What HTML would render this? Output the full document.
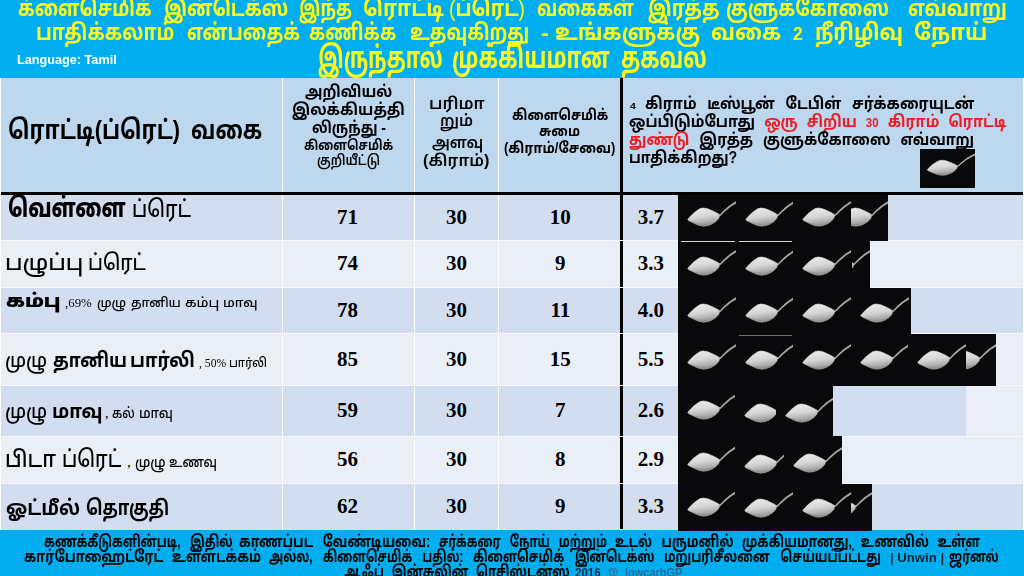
<!DOCTYPE html>
<html lang="ta"><head><meta charset="utf-8"><title>கிளைசெமிக் இன்டெக்ஸ் - ரொட்டி வகை</title>
<style>
html,body{margin:0;padding:0;background:#fff}
#pg{position:relative;width:1024px;height:576px;overflow:hidden;background:#fff;font-family:'Liberation Sans','Noto Sans Tamil','Lohit Tamil','FreeSans',sans-serif}
#pg div{position:absolute}
.t{white-space:nowrap;line-height:1;transform-origin:0 0}
.n{width:80px;text-align:center;font:bold 21px/25px "Liberation Serif",serif;color:#000}
.band{left:1px;width:1021.5px}
.hl{left:1px;width:1021.5px;height:1px;background:#f7f9fd}
.vl{top:78px;height:452px;width:1px;background:#fff}
.blk{background:#09090c;overflow:hidden}
.sp{overflow:hidden}
.sp svg{position:absolute;top:0;left:0;display:block}
</style></head><body>
<svg width="0" height="0" style="position:absolute"><defs>
<linearGradient id="sg" x1="0" y1="0" x2="0.25" y2="1"><stop offset="0" stop-color="#efefef"/><stop offset="0.55" stop-color="#d6d6d6"/><stop offset="1" stop-color="#9c9c9c"/></linearGradient>
<filter id="sb" x="-5%" y="-5%" width="110%" height="110%"><feGaussianBlur stdDeviation="0.35"/></filter>
<g id="spg">
<rect x="-4" width="70" height="46" fill="#09090c"/>
<g filter="url(#sb)">
<path d="M41.2,20.2 L45.4,15.8 Q51,10.3 57.3,6.6 L63,3.6 L63.6,5.8 L58,8.6 Q52,11.7 46.6,16.9 L42.2,21.3 Z" fill="#a4a4a4"/>
<path d="M9.7,24.4 L12.2,21.5 L15.5,18.3 L18.8,15.7 L22.2,13.6 L25.5,13 L29.7,13.8 L33.8,15.5 L38,17.5 L41.8,19.8 L40.9,23.2 L38,26.5 L33.8,29.2 L29.7,30.7 L25.5,31.2 L21.3,30.5 L17.2,28.8 L13.4,26.9 L10.5,25.5 Z" fill="url(#sg)" stroke="url(#sg)" stroke-width="0.6" stroke-linejoin="round"/>
<path d="M12.5,26.6 L17.2,28.9 L21.3,30.6 L25.5,31.3 L29.7,30.8 L33.8,29.3 L38,26.6 Q33,28.6 27,29 Q20,29 12.5,26.6Z" fill="#8c8c8c" opacity="0.55"/>
</g>
</g>
<symbol id="spoon" viewBox="0 0 58 46" preserveAspectRatio="none"><use href="#spg"/></symbol></defs></svg>
<div id="pg">
<div style="left:0;top:0;width:1024px;height:77.5px;background:#00AEEF"></div>
<div style="left:0;top:530px;width:1024px;height:46px;background:#00AEEF"></div>
<div style="left:1px;top:77.5px;width:1021.5px;height:115px;background:#BDD7EE"></div>
<div class="band" style="top:195px;height:45px;background:#D2DEEF"></div><div class="band" style="top:240px;height:47.5px;background:#EAEFF7"></div><div class="band" style="top:287.5px;height:46.0px;background:#D2DEEF"></div><div class="band" style="top:333.5px;height:52.0px;background:#EAEFF7"></div><div class="band" style="top:385.5px;height:50.5px;background:#D2DEEF"></div><div class="band" style="top:436px;height:47.5px;background:#EAEFF7"></div><div class="band" style="top:483.5px;height:46.5px;background:#D2DEEF"></div>
<div class="vl" style="left:282px"></div><div class="vl" style="left:414px"></div><div class="vl" style="left:498px"></div>
<div style="left:1px;top:192px;width:1021.5px;height:3px;background:#000"></div>
<div style="left:620.2px;top:77.5px;width:3.3px;height:451.5px;background:#000"></div>
<div class="hl" style="top:239.5px"></div><div class="hl" style="top:287.0px"></div><div class="hl" style="top:333.0px"></div><div class="hl" style="top:385.0px"></div><div class="hl" style="top:435.5px"></div><div class="hl" style="top:483.0px"></div><div style="left:966px;top:385.5px;width:56.5px;height:50.5px;background:#EAEFF7"></div>
<div style="left:920px;top:149.2px;width:54.8px;height:38.4px;overflow:hidden;background:#09090c"><svg width="54.8" height="38.4" viewBox="2.2 -0.4 57.8 46" preserveAspectRatio="none" style="display:block"><use href="#spg"/></svg></div>
<div class="blk" style="left:678px;top:195px;width:210px;height:45.5px"><div class="sp" style="left:0.0px;top:0.0px;width:58px;height:46px"><svg width="58" height="46" viewBox="0 0 58 46" preserveAspectRatio="none"><use href="#spoon"/></svg></div><div class="sp" style="left:57.5px;top:0.0px;width:58px;height:46px"><svg width="58" height="46" viewBox="0 0 58 46" preserveAspectRatio="none"><use href="#spoon"/></svg></div><div class="sp" style="left:115.3px;top:0.0px;width:58px;height:46px"><svg width="58" height="46" viewBox="0 0 58 46" preserveAspectRatio="none"><use href="#spoon"/></svg></div><div class="sp" style="left:172.9px;top:0.0px;width:37.1px;height:46px"><svg style="left:-20.9px" width="58" height="46" viewBox="0 0 58 46" preserveAspectRatio="none"><use href="#spoon"/></svg></div></div><div class="blk" style="left:678px;top:240px;width:191.5px;height:48.0px"><div class="sp" style="left:0.0px;top:4.1px;width:58px;height:46px"><svg width="58" height="46" viewBox="0 0 58 46" preserveAspectRatio="none"><use href="#spoon"/></svg></div><div class="sp" style="left:57.5px;top:4.1px;width:58px;height:46px"><svg width="58" height="46" viewBox="0 0 58 46" preserveAspectRatio="none"><use href="#spoon"/></svg></div><div class="sp" style="left:115.3px;top:4.1px;width:58px;height:46px"><svg width="58" height="46" viewBox="0 0 58 46" preserveAspectRatio="none"><use href="#spoon"/></svg></div><div class="sp" style="left:173.5px;top:4.1px;width:18.0px;height:46px"><svg style="left:-40.0px" width="58" height="46" viewBox="0 0 58 46" preserveAspectRatio="none"><use href="#spoon"/></svg></div></div><div class="blk" style="left:678px;top:287.5px;width:232.5px;height:46.5px"><div class="sp" style="left:0.0px;top:3.1px;width:58px;height:46px"><svg width="58" height="46" viewBox="0 0 58 46" preserveAspectRatio="none"><use href="#spoon"/></svg></div><div class="sp" style="left:57.5px;top:3.1px;width:58px;height:46px"><svg width="58" height="46" viewBox="0 0 58 46" preserveAspectRatio="none"><use href="#spoon"/></svg></div><div class="sp" style="left:115.3px;top:3.1px;width:58px;height:46px"><svg width="58" height="46" viewBox="0 0 58 46" preserveAspectRatio="none"><use href="#spoon"/></svg></div><div class="sp" style="left:173.3px;top:3.1px;width:58px;height:46px"><svg width="58" height="46" viewBox="0 0 58 46" preserveAspectRatio="none"><use href="#spoon"/></svg></div></div><div class="blk" style="left:678px;top:333.5px;width:318px;height:52.5px"><div class="sp" style="left:0.0px;top:4.8px;width:58px;height:46px"><svg width="58" height="46" viewBox="0 0 58 46" preserveAspectRatio="none"><use href="#spoon"/></svg></div><div class="sp" style="left:57.5px;top:4.8px;width:58px;height:46px"><svg width="58" height="46" viewBox="0 0 58 46" preserveAspectRatio="none"><use href="#spoon"/></svg></div><div class="sp" style="left:115.0px;top:4.8px;width:58px;height:46px"><svg width="58" height="46" viewBox="0 0 58 46" preserveAspectRatio="none"><use href="#spoon"/></svg></div><div class="sp" style="left:172.5px;top:4.8px;width:58px;height:46px"><svg width="58" height="46" viewBox="0 0 58 46" preserveAspectRatio="none"><use href="#spoon"/></svg></div><div class="sp" style="left:230.0px;top:4.8px;width:58px;height:46px"><svg width="58" height="46" viewBox="0 0 58 46" preserveAspectRatio="none"><use href="#spoon"/></svg></div><div class="sp" style="left:287.8px;top:4.8px;width:30.2px;height:46px"><svg style="left:-27.8px" width="58" height="46" viewBox="0 0 58 46" preserveAspectRatio="none"><use href="#spoon"/></svg></div></div><div class="blk" style="left:678px;top:385.5px;width:155px;height:51.0px"><div class="sp" style="left:0.0px;top:2.0px;width:58px;height:46px"><svg width="58" height="46" viewBox="0 0 58 46" preserveAspectRatio="none"><use href="#spoon"/></svg></div><div class="sp" style="left:57.0px;top:5.5px;width:58px;height:46px"><svg width="58" height="46" viewBox="0 0 58 46" preserveAspectRatio="none"><use href="#spoon"/></svg></div><div class="sp" style="left:97.6px;top:5.0px;width:58px;height:46px"><svg width="58" height="46" viewBox="0 0 58 46" preserveAspectRatio="none"><use href="#spoon"/></svg></div></div><div class="blk" style="left:678px;top:436px;width:164px;height:48.0px"><div class="sp" style="left:0.0px;top:4.2px;width:58px;height:46px"><svg width="58" height="46" viewBox="0 0 58 46" preserveAspectRatio="none"><use href="#spoon"/></svg></div><div class="sp" style="left:57.0px;top:6.2px;width:58px;height:46px"><svg width="58" height="46" viewBox="0 0 58 46" preserveAspectRatio="none"><use href="#spoon"/></svg></div><div class="sp" style="left:106.3px;top:5.2px;width:58px;height:46px"><svg width="58" height="46" viewBox="0 0 58 46" preserveAspectRatio="none"><use href="#spoon"/></svg></div></div><div class="blk" style="left:678px;top:483.5px;width:194px;height:47.0px"><div class="sp" style="left:0.0px;top:1.3px;width:58px;height:46px"><svg width="58" height="46" viewBox="0 0 58 46" preserveAspectRatio="none"><use href="#spoon"/></svg></div><div class="sp" style="left:57.3px;top:2.3px;width:58px;height:46px"><svg width="58" height="46" viewBox="0 0 58 46" preserveAspectRatio="none"><use href="#spoon"/></svg></div><div class="sp" style="left:115.3px;top:2.8px;width:58px;height:46px"><svg width="58" height="46" viewBox="0 0 58 46" preserveAspectRatio="none"><use href="#spoon"/></svg></div><div class="sp" style="left:173.1px;top:2.8px;width:20.9px;height:46px"><svg style="left:-37.1px" width="58" height="46" viewBox="0 0 58 46" preserveAspectRatio="none"><use href="#spoon"/></svg></div></div>
<div style="left:681px;top:241.3px;width:54px;height:1px;background:#d8d8d8"></div><div style="left:739px;top:241.3px;width:53px;height:1px;background:#d8d8d8"></div><div style="left:739px;top:335.4px;width:53px;height:1px;background:#6e6e6e"></div>
<div class="n" style="left:307.6px;top:204.9px">71</div><div class="n" style="left:416.5px;top:204.9px">30</div><div class="n" style="left:520.3px;top:204.9px">10</div><div class="n" style="left:610.8px;top:204.9px">3.7</div><div class="n" style="left:307.6px;top:251.2px">74</div><div class="n" style="left:416.5px;top:251.2px">30</div><div class="n" style="left:520.3px;top:251.2px">9</div><div class="n" style="left:610.8px;top:251.2px">3.3</div><div class="n" style="left:307.6px;top:297.9px">78</div><div class="n" style="left:416.5px;top:297.9px">30</div><div class="n" style="left:520.3px;top:297.9px">11</div><div class="n" style="left:610.8px;top:297.9px">4.0</div><div class="n" style="left:307.6px;top:346.9px">85</div><div class="n" style="left:416.5px;top:346.9px">30</div><div class="n" style="left:520.3px;top:346.9px">15</div><div class="n" style="left:610.8px;top:346.9px">5.5</div><div class="n" style="left:307.6px;top:398.1px">59</div><div class="n" style="left:416.5px;top:398.1px">30</div><div class="n" style="left:520.3px;top:398.1px">7</div><div class="n" style="left:610.8px;top:398.1px">2.6</div><div class="n" style="left:307.6px;top:447.1px">56</div><div class="n" style="left:416.5px;top:447.1px">30</div><div class="n" style="left:520.3px;top:447.1px">8</div><div class="n" style="left:610.8px;top:447.1px">2.9</div><div class="n" style="left:307.6px;top:494.1px">62</div><div class="n" style="left:416.5px;top:494.1px">30</div><div class="n" style="left:520.3px;top:494.1px">9</div><div class="n" style="left:610.8px;top:494.1px">3.3</div>
<div class="t" style="left:17.94px;top:-1.90px;transform:scaleX(0.8064);font-family:'Liberation Sans','Noto Sans Tamil','Lohit Tamil','FreeSans',sans-serif;font-size:22.6px;font-weight:bold;color:#FBF81E;">க்ளைசெமிக்</div><div class="t" style="left:164.17px;top:-1.90px;transform:scaleX(0.8277);font-family:'Liberation Sans','Noto Sans Tamil','Lohit Tamil','FreeSans',sans-serif;font-size:22.6px;font-weight:bold;color:#FBF81E;">இன்டெக்ஸ்</div><div class="t" style="left:298.73px;top:-1.90px;transform:scaleX(0.7731);font-family:'Liberation Sans','Noto Sans Tamil','Lohit Tamil','FreeSans',sans-serif;font-size:22.6px;font-weight:bold;color:#FBF81E;">இந்த</div><div class="t" style="left:362.70px;top:-1.90px;transform:scaleX(0.8989);font-family:'Liberation Sans','Noto Sans Tamil','Lohit Tamil','FreeSans',sans-serif;font-size:22.6px;font-weight:bold;color:#FBF81E;">ரொட்டி</div><div class="t" style="left:448.84px;top:-1.90px;transform:scaleX(0.8581);font-family:'Liberation Sans','Noto Sans Tamil','Lohit Tamil','FreeSans',sans-serif;font-size:22.6px;font-weight:bold;color:#FBF81E;"><span style="font-weight:normal">(</span>ப்ரெட்<span style="font-weight:normal">)</span></div><div class="t" style="left:537.11px;top:-1.90px;transform:scaleX(0.7902);font-family:'Liberation Sans','Noto Sans Tamil','Lohit Tamil','FreeSans',sans-serif;font-size:22.6px;font-weight:bold;color:#FBF81E;">வகைகள்</div><div class="t" style="left:647.75px;top:-1.90px;transform:scaleX(0.8537);font-family:'Liberation Sans','Noto Sans Tamil','Lohit Tamil','FreeSans',sans-serif;font-size:22.6px;font-weight:bold;color:#FBF81E;">இரத்த</div><div class="t" style="left:726.18px;top:-1.90px;transform:scaleX(0.8188);font-family:'Liberation Sans','Noto Sans Tamil','Lohit Tamil','FreeSans',sans-serif;font-size:22.6px;font-weight:bold;color:#FBF81E;">குளுக்கோஸை</div><div class="t" style="left:907.54px;top:-1.90px;transform:scaleX(0.8625);font-family:'Liberation Sans','Noto Sans Tamil','Lohit Tamil','FreeSans',sans-serif;font-size:22.6px;font-weight:bold;color:#FBF81E;">எவ்வாறு</div><div class="t" style="left:35.82px;top:22.00px;transform:scaleX(0.8410);font-family:'Liberation Sans','Noto Sans Tamil','Lohit Tamil','FreeSans',sans-serif;font-size:22.6px;font-weight:bold;color:#FBF81E;">பாதிக்கலாம்</div><div class="t" style="left:186.69px;top:22.00px;transform:scaleX(0.8139);font-family:'Liberation Sans','Noto Sans Tamil','Lohit Tamil','FreeSans',sans-serif;font-size:22.6px;font-weight:bold;color:#FBF81E;">என்பதைக்</div><div class="t" style="left:309.46px;top:22.00px;transform:scaleX(0.7904);font-family:'Liberation Sans','Noto Sans Tamil','Lohit Tamil','FreeSans',sans-serif;font-size:22.6px;font-weight:bold;color:#FBF81E;">கணிக்க</div><div class="t" style="left:409.89px;top:22.00px;transform:scaleX(0.8062);font-family:'Liberation Sans','Noto Sans Tamil','Lohit Tamil','FreeSans',sans-serif;font-size:22.6px;font-weight:bold;color:#FBF81E;">உதவுகிறது</div><div class="t" style="left:540.97px;top:22.00px;transform:scaleX(1.0333);font-family:'Liberation Sans','Noto Sans Tamil','Lohit Tamil','FreeSans',sans-serif;font-size:22.6px;font-weight:bold;color:#FBF81E;">-</div><div class="t" style="left:555.47px;top:22.00px;transform:scaleX(0.9265);font-family:'Liberation Sans','Noto Sans Tamil','Lohit Tamil','FreeSans',sans-serif;font-size:22.6px;font-weight:bold;color:#FBF81E;">உங்களுக்கு</div><div class="t" style="left:711.07px;top:22.00px;transform:scaleX(0.9297);font-family:'Liberation Sans','Noto Sans Tamil','Lohit Tamil','FreeSans',sans-serif;font-size:22.6px;font-weight:bold;color:#FBF81E;">வகை</div><div class="t" style="left:793.27px;top:22.00px;transform:scaleX(0.9333);font-family:'Liberation Sans','Noto Sans Tamil','Lohit Tamil','FreeSans',sans-serif;font-size:22.6px;font-weight:bold;color:#FBF81E;"><span style="font-size:19px">2</span></div><div class="t" style="left:815.09px;top:22.00px;transform:scaleX(0.9117);font-family:'Liberation Sans','Noto Sans Tamil','Lohit Tamil','FreeSans',sans-serif;font-size:22.6px;font-weight:bold;color:#FBF81E;">நீரிழிவு</div><div class="t" style="left:914.04px;top:22.00px;transform:scaleX(0.9554);font-family:'Liberation Sans','Noto Sans Tamil','Lohit Tamil','FreeSans',sans-serif;font-size:22.6px;font-weight:bold;color:#FBF81E;">நோய்</div><div class="t" style="left:317.82px;top:41.70px;transform:scaleX(0.6833);font-family:'Liberation Sans','Noto Sans Tamil','Lohit Tamil','FreeSans',sans-serif;font-size:30.5px;font-weight:bold;color:#FBF81E;">இருந்தால்</div><div class="t" style="left:452.40px;top:41.70px;transform:scaleX(0.7023);font-family:'Liberation Sans','Noto Sans Tamil','Lohit Tamil','FreeSans',sans-serif;font-size:30.5px;font-weight:bold;color:#FBF81E;">முக்கியமான</div><div class="t" style="left:621.31px;top:41.70px;transform:scaleX(0.6885);font-family:'Liberation Sans','Noto Sans Tamil','Lohit Tamil','FreeSans',sans-serif;font-size:30.5px;font-weight:bold;color:#FBF81E;">தகவல்</div><div class="t" style="left:16.51px;top:53.75px;transform:scaleX(0.9899);font-family:'Liberation Sans','Noto Sans Tamil','Lohit Tamil','FreeSans',sans-serif;font-size:12.8px;font-weight:bold;color:#fff;">Language: Tamil</div><div class="t" style="left:7.66px;top:116.50px;transform:scaleX(0.8374);font-family:'Liberation Sans','Noto Sans Tamil','Lohit Tamil','FreeSans',sans-serif;font-size:26px;font-weight:bold;color:#000;">ரொட்டி(ப்ரெட்)</div><div class="t" style="left:190.98px;top:116.50px;transform:scaleX(0.8212);font-family:'Liberation Sans','Noto Sans Tamil','Lohit Tamil','FreeSans',sans-serif;font-size:26px;font-weight:bold;color:#000;">வகை</div><div class="t" style="left:304.80px;top:82.75px;transform:scaleX(0.8827);font-family:'Liberation Sans','Noto Sans Tamil','Lohit Tamil','FreeSans',sans-serif;font-size:16.2px;font-weight:bold;color:#000;">அறிவியல்</div><div class="t" style="left:291.79px;top:101.30px;transform:scaleX(0.9107);font-family:'Liberation Sans','Noto Sans Tamil','Lohit Tamil','FreeSans',sans-serif;font-size:16.2px;font-weight:bold;color:#000;">இலக்கியத்தி</div><div class="t" style="left:312.34px;top:119.20px;transform:scaleX(0.8619);font-family:'Liberation Sans','Noto Sans Tamil','Lohit Tamil','FreeSans',sans-serif;font-size:16.2px;font-weight:bold;color:#000;">லிருந்து -</div><div class="t" style="left:303.65px;top:138.50px;transform:scaleX(0.8462);font-family:'Liberation Sans','Noto Sans Tamil','Lohit Tamil','FreeSans',sans-serif;font-size:13.8px;font-weight:bold;color:#000;">கிளைசெமிக்</div><div class="t" style="left:317.02px;top:153.80px;transform:scaleX(0.8800);font-family:'Liberation Sans','Noto Sans Tamil','Lohit Tamil','FreeSans',sans-serif;font-size:13.8px;font-weight:600;color:#000;">குறியீட்டு</div><div class="t" style="left:428.71px;top:95.75px;transform:scaleX(1.0377);font-family:'Liberation Sans','Noto Sans Tamil','Lohit Tamil','FreeSans',sans-serif;font-size:16px;font-weight:600;color:#000;">பரிமா</div><div class="t" style="left:439.53px;top:112.50px;transform:scaleX(0.9688);font-family:'Liberation Sans','Noto Sans Tamil','Lohit Tamil','FreeSans',sans-serif;font-size:16px;font-weight:600;color:#000;">றும்</div><div class="t" style="left:432.25px;top:134.50px;transform:scaleX(0.9434);font-family:'Liberation Sans','Noto Sans Tamil','Lohit Tamil','FreeSans',sans-serif;font-size:16px;font-weight:600;color:#000;">அளவு</div><div class="t" style="left:422.98px;top:153.25px;transform:scaleX(1.0156);font-family:'Liberation Sans','Noto Sans Tamil','Lohit Tamil','FreeSans',sans-serif;font-size:16px;font-weight:600;color:#000;">(கிராம்)</div><div class="t" style="left:511.66px;top:107.00px;transform:scaleX(0.8407);font-family:'Liberation Sans','Noto Sans Tamil','Lohit Tamil','FreeSans',sans-serif;font-size:15px;font-weight:bold;color:#000;">கிளைசெமிக்</div><div class="t" style="left:539.14px;top:122.50px;transform:scaleX(0.8587);font-family:'Liberation Sans','Noto Sans Tamil','Lohit Tamil','FreeSans',sans-serif;font-size:15px;font-weight:bold;color:#000;">சுமை</div><div class="t" style="left:504.13px;top:139.50px;transform:scaleX(0.8730);font-family:'Liberation Sans','Noto Sans Tamil','Lohit Tamil','FreeSans',sans-serif;font-size:15px;font-weight:bold;color:#000;">(கிராம்/சேவை)</div><div class="t" style="left:644.62px;top:94.90px;transform:scaleX(0.8814);word-spacing:7.52px;font-family:'Liberation Sans','Noto Sans Tamil','Lohit Tamil','FreeSans',sans-serif;font-size:16.5px;font-weight:bold;color:#000;">கிராம் டீஸ்பூன் டேபிள் சர்க்கரையுடன்</div><div class="t" style="left:630.00px;top:100.90px;transform:scaleX(1.1200);font-family:'Liberation Sans','Noto Sans Tamil','Lohit Tamil','FreeSans',sans-serif;font-size:9.4px;font-weight:bold;color:#000;">4</div><div class="t" style="left:629.12px;top:113.00px;transform:scaleX(0.8831);word-spacing:5.69px;font-family:'Liberation Sans','Noto Sans Tamil','Lohit Tamil','FreeSans',sans-serif;font-size:16.5px;font-weight:bold;color:#000;">ஒப்பிடும்போது <span style="color:#F01C24">ஒரு சிறிய <span style="font-size:13px">30</span> கிராம் ரொட்டி</span></div><div class="t" style="left:629.12px;top:130.80px;transform:scaleX(0.8779);word-spacing:6.70px;font-family:'Liberation Sans','Noto Sans Tamil','Lohit Tamil','FreeSans',sans-serif;font-size:16.5px;font-weight:bold;color:#000;"><span style="color:#F01C24">துண்டு</span> இரத்த குளுக்கோஸை எவ்வாறு</div><div class="t" style="left:629.14px;top:148.70px;transform:scaleX(0.8589);font-family:'Liberation Sans','Noto Sans Tamil','Lohit Tamil','FreeSans',sans-serif;font-size:16.5px;font-weight:bold;color:#000;">பாதிக்கிறது?</div><div class="t" style="left:7.66px;top:194.70px;transform:scaleX(0.7427);font-family:'Liberation Sans','Noto Sans Tamil','Lohit Tamil','FreeSans',sans-serif;font-size:27px;font-weight:800;color:#000;">வெள்ளை</div><div class="t" style="left:131.94px;top:197.70px;transform:scaleX(0.8319);font-family:'Liberation Sans','Noto Sans Tamil','Lohit Tamil','FreeSans',sans-serif;font-size:23px;font-weight:500;color:#000;">ப்ரெட்</div><div class="t" style="left:4.99px;top:252.00px;transform:scaleX(1.0068);font-family:'Liberation Sans','Noto Sans Tamil','Lohit Tamil','FreeSans',sans-serif;font-size:22px;font-weight:500;color:#000;">பழுப்பு</div><div class="t" style="left:87.69px;top:252.00px;transform:scaleX(0.8530);font-family:'Liberation Sans','Noto Sans Tamil','Lohit Tamil','FreeSans',sans-serif;font-size:22px;font-weight:500;color:#000;">ப்ரெட்</div><div class="t" style="left:5.53px;top:292.40px;transform:scaleX(1.0694);font-family:'Liberation Sans','Noto Sans Tamil','Lohit Tamil','FreeSans',sans-serif;font-size:18.3px;font-weight:900;color:#000;">கம்பு</div><div class="t" style="left:64.91px;top:296.40px;transform:scaleX(0.9885);font-family:'Liberation Serif','Noto Serif Tamil',serif;font-size:13px;font-weight:500;color:#000;">,69%</div><div class="t" style="left:96.73px;top:296.40px;transform:scaleX(0.9679);font-family:'Liberation Sans','Noto Sans Tamil','Lohit Tamil','FreeSans',sans-serif;font-size:13px;font-weight:500;color:#000;">முழு</div><div class="t" style="left:130.54px;top:296.40px;transform:scaleX(0.9560);font-family:'Liberation Sans','Noto Sans Tamil','Lohit Tamil','FreeSans',sans-serif;font-size:13px;font-weight:500;color:#000;">தானிய</div><div class="t" style="left:184.96px;top:296.40px;transform:scaleX(1.0419);font-family:'Liberation Sans','Noto Sans Tamil','Lohit Tamil','FreeSans',sans-serif;font-size:13px;font-weight:500;color:#000;">கம்பு</div><div class="t" style="left:223.37px;top:296.40px;transform:scaleX(1.0290);font-family:'Liberation Sans','Noto Sans Tamil','Lohit Tamil','FreeSans',sans-serif;font-size:13px;font-weight:500;color:#000;">மாவு</div><div class="t" style="left:5.31px;top:350.00px;transform:scaleX(0.8933);font-family:'Liberation Sans','Noto Sans Tamil','Lohit Tamil','FreeSans',sans-serif;font-size:20.3px;font-weight:500;color:#000;">முழு</div><div class="t" style="left:52.55px;top:350.00px;transform:scaleX(0.8524);font-family:'Liberation Sans','Noto Sans Tamil','Lohit Tamil','FreeSans',sans-serif;font-size:20.3px;font-weight:bold;color:#000;">தானிய</div><div class="t" style="left:130.23px;top:350.00px;transform:scaleX(0.8857);font-family:'Liberation Sans','Noto Sans Tamil','Lohit Tamil','FreeSans',sans-serif;font-size:20.3px;font-weight:bold;color:#000;">பார்லி</div><div class="t" style="left:198.77px;top:357.00px;transform:scaleX(0.9321);font-family:'Liberation Serif','Noto Serif Tamil',serif;font-size:12.5px;font-weight:500;color:#000;">, 50%</div><div class="t" style="left:229.11px;top:357.00px;transform:scaleX(0.8925);font-family:'Liberation Sans','Noto Sans Tamil','Lohit Tamil','FreeSans',sans-serif;font-size:12.5px;font-weight:500;color:#000;">பார்லி</div><div class="t" style="left:5.31px;top:400.70px;transform:scaleX(0.8933);font-family:'Liberation Sans','Noto Sans Tamil','Lohit Tamil','FreeSans',sans-serif;font-size:20.3px;font-weight:500;color:#000;">முழு</div><div class="t" style="left:51.58px;top:400.70px;transform:scaleX(0.9096);font-family:'Liberation Sans','Noto Sans Tamil','Lohit Tamil','FreeSans',sans-serif;font-size:20.3px;font-weight:bold;color:#000;">மாவு</div><div class="t" style="left:105.00px;top:406.70px;transform:scaleX(1.0000);font-family:'Liberation Serif','Noto Serif Tamil',serif;font-size:14px;font-weight:500;color:#000;">,</div><div class="t" style="left:112.14px;top:405.70px;transform:scaleX(0.8560);font-family:'Liberation Sans','Noto Sans Tamil','Lohit Tamil','FreeSans',sans-serif;font-size:14px;font-weight:500;color:#000;">கல்</div><div class="t" style="left:139.06px;top:405.70px;transform:scaleX(0.9412);font-family:'Liberation Sans','Noto Sans Tamil','Lohit Tamil','FreeSans',sans-serif;font-size:14px;font-weight:500;color:#000;">மாவு</div><div class="t" style="left:5.18px;top:448.00px;transform:scaleX(0.9111);font-family:'Liberation Sans','Noto Sans Tamil','Lohit Tamil','FreeSans',sans-serif;font-size:23px;font-weight:500;color:#000;">பிடா</div><div class="t" style="left:61.63px;top:448.00px;transform:scaleX(0.8362);font-family:'Liberation Sans','Noto Sans Tamil','Lohit Tamil','FreeSans',sans-serif;font-size:23px;font-weight:500;color:#000;">ப்ரெட்</div><div class="t" style="left:127.00px;top:455.00px;transform:scaleX(1.0000);font-family:'Liberation Serif','Noto Serif Tamil',serif;font-size:15px;font-weight:500;color:#000;">,</div><div class="t" style="left:134.62px;top:454.00px;transform:scaleX(0.8788);font-family:'Liberation Sans','Noto Sans Tamil','Lohit Tamil','FreeSans',sans-serif;font-size:15px;font-weight:500;color:#000;">முழு</div><div class="t" style="left:169.16px;top:454.00px;transform:scaleX(0.8364);font-family:'Liberation Sans','Noto Sans Tamil','Lohit Tamil','FreeSans',sans-serif;font-size:15px;font-weight:500;color:#000;">உணவு</div><div class="t" style="left:5.68px;top:497.50px;transform:scaleX(0.9205);font-family:'Liberation Sans','Noto Sans Tamil','Lohit Tamil','FreeSans',sans-serif;font-size:20.5px;font-weight:bold;color:#000;">ஓட்மீல்</div><div class="t" style="left:86.18px;top:497.50px;transform:scaleX(0.8172);font-family:'Liberation Sans','Noto Sans Tamil','Lohit Tamil','FreeSans',sans-serif;font-size:20.5px;font-weight:bold;color:#000;">தொகுதி</div><div class="t" style="left:43.77px;top:533.00px;transform:scaleX(0.7292);word-spacing:8.50px;font-family:'Liberation Sans','Noto Sans Tamil','Lohit Tamil','FreeSans',sans-serif;font-size:16.4px;font-weight:bold;color:#000;">கணக்கீடுகளின்படி, இதில்</div><div class="t" style="left:239.22px;top:533.00px;transform:scaleX(0.7778);word-spacing:7.97px;font-family:'Liberation Sans','Noto Sans Tamil','Lohit Tamil','FreeSans',sans-serif;font-size:16.4px;font-weight:bold;color:#000;">காணப்பட வேண்டியவை:</div><div class="t" style="left:438.99px;top:533.00px;transform:scaleX(0.7137);word-spacing:8.23px;font-family:'Liberation Sans','Noto Sans Tamil','Lohit Tamil','FreeSans',sans-serif;font-size:16.4px;font-weight:bold;color:#000;">சர்க்கரை நோய் மற்றும்</div><div class="t" style="left:615.23px;top:533.00px;transform:scaleX(0.7676);word-spacing:7.67px;font-family:'Liberation Sans','Noto Sans Tamil','Lohit Tamil','FreeSans',sans-serif;font-size:16.4px;font-weight:bold;color:#000;">உடல் பருமனில்</div><div class="t" style="left:742.24px;top:533.00px;transform:scaleX(0.7611);word-spacing:7.14px;font-family:'Liberation Sans','Noto Sans Tamil','Lohit Tamil','FreeSans',sans-serif;font-size:16.4px;font-weight:bold;color:#000;">முக்கியமானது, உணவில் உள்ள</div><div class="t" style="left:24.19px;top:548.00px;transform:scaleX(0.8067);font-family:'Liberation Sans','Noto Sans Tamil','Lohit Tamil','FreeSans',sans-serif;font-size:16.4px;font-weight:bold;color:#000;">கார்போஹைட்ரேட்</div><div class="t" style="left:171.71px;top:548.00px;transform:scaleX(0.7857);font-family:'Liberation Sans','Noto Sans Tamil','Lohit Tamil','FreeSans',sans-serif;font-size:16.4px;font-weight:bold;color:#000;">உள்ளடக்கம்</div><div class="t" style="left:269.00px;top:548.00px;transform:scaleX(0.7121);word-spacing:10.09px;font-family:'Liberation Sans','Noto Sans Tamil','Lohit Tamil','FreeSans',sans-serif;font-size:16.4px;font-weight:bold;color:#000;">அல்ல, கிளைசெமிக் பதில்:</div><div class="t" style="left:472.77px;top:548.00px;transform:scaleX(0.7284);word-spacing:10.15px;font-family:'Liberation Sans','Noto Sans Tamil','Lohit Tamil','FreeSans',sans-serif;font-size:16.4px;font-weight:bold;color:#000;">கிளைசெமிக் இன்டெக்ஸ்</div><div class="t" style="left:663.65px;top:548.00px;transform:scaleX(0.7476);word-spacing:9.53px;font-family:'Liberation Sans','Noto Sans Tamil','Lohit Tamil','FreeSans',sans-serif;font-size:16.4px;font-weight:bold;color:#000;">மறுபரிசீலனை செய்யப்பட்டது</div><div class="t" style="left:889.96px;top:551.50px;transform:scaleX(1.0440);font-family:'Liberation Sans','Noto Sans Tamil','Lohit Tamil','FreeSans',sans-serif;font-size:12.6px;font-weight:bold;color:#0b2233;">| Unwin |</div><div class="t" style="left:948.58px;top:548.00px;transform:scaleX(0.7162);font-family:'Liberation Sans','Noto Sans Tamil','Lohit Tamil','FreeSans',sans-serif;font-size:16.4px;font-weight:bold;color:#000;">ஜர்னல்</div><div class="t" style="left:344.00px;top:562.50px;transform:scaleX(0.7455);word-spacing:5.61px;font-family:'Liberation Sans','Noto Sans Tamil','Lohit Tamil','FreeSans',sans-serif;font-size:16.4px;font-weight:bold;color:#000;">ஆஃப் இன்சுலின் ரெசிஸ்டன்ஸ்</div><div class="t" style="left:575.00px;top:566.60px;transform:scaleX(0.9615);font-family:'Liberation Sans','Noto Sans Tamil','Lohit Tamil','FreeSans',sans-serif;font-size:12px;font-weight:bold;color:#0d2c48;">2016</div><div class="t" style="left:606.45px;top:566.60px;transform:scaleX(1.0500);font-family:'Liberation Sans','Noto Sans Tamil','Lohit Tamil','FreeSans',sans-serif;font-size:12px;font-weight:bold;color:#2b6c9b;">@</div><div class="t" style="left:624.69px;top:566.60px;transform:scaleX(0.9148);font-family:'Liberation Sans','Noto Sans Tamil','Lohit Tamil','FreeSans',sans-serif;font-size:12px;font-weight:bold;color:#2b6c9b;">lowcarbGP</div>
</div></body></html>
